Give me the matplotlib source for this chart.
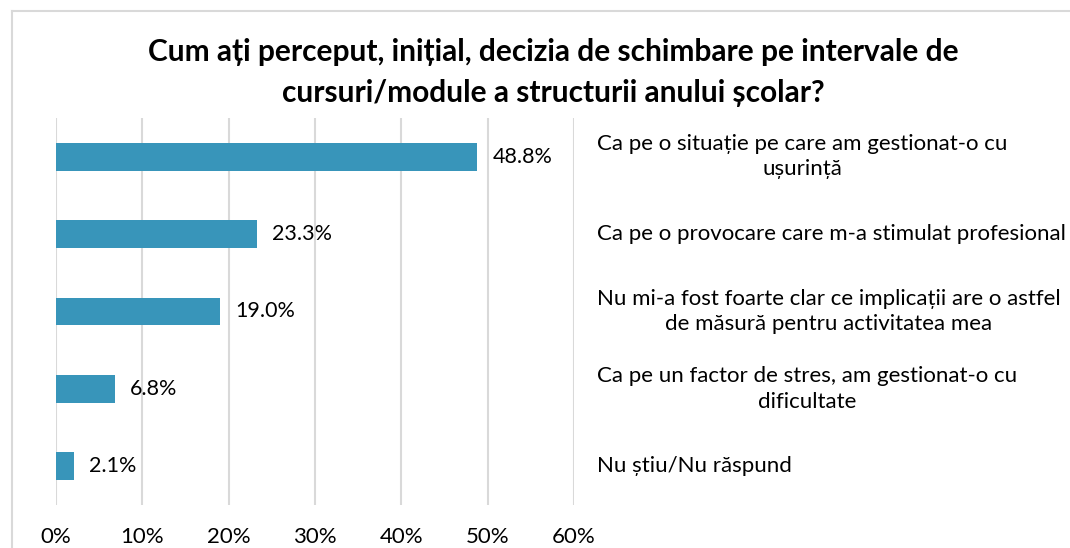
import matplotlib
matplotlib.use("Agg")
from matplotlib import pyplot as plt
from matplotlib.lines import Line2D
import matplotlib.transforms as mtransforms

categories = [
    "Ca pe o situație pe care am gestionat-o cu\nușurință",
    "Ca pe o provocare care m-a stimulat profesional",
    "Nu mi-a fost foarte clar ce implicații are o astfel\nde măsură pentru activitatea mea",
    "Ca pe un factor de stres, am gestionat-o cu\ndificultate",
    "Nu știu/Nu răspund",
]
values = [48.8, 23.3, 19.0, 6.8, 2.1]
ticks = [0, 10, 20, 30, 40, 50, 60]
tick_labels = ["0%", "10%", "20%", "30%", "40%", "50%", "60%"]

plt.rcParams["font.family"] = ["Lato", "DejaVu Sans"]

fig = plt.figure(figsize=(10.7, 5.48), dpi=100)
ax = fig.add_axes([0.0523, 0.0785, 0.4841, 0.7062])

ypos = list(range(len(values)))
ax.barh(ypos, values, height=0.36, color="#3895BA", zorder=3)
ax.set_ylim(len(values) - 0.5, -0.5)
ax.set_xlim(0, 60)

for y, v in zip(ypos, values):
    ax.annotate(f"{v:.1f}%", (v, y), xytext=(11, 0), textcoords="offset points",
                va="center", ha="left", fontsize=15.5, color="#000000")

ax.set_xticks(ticks)
ax.set_xticklabels(tick_labels, fontsize=16)
ax.tick_params(axis="x", length=0, pad=16)
ax.set_yticks([])
ax.grid(axis="x", color="#D9D9D9", linewidth=1.5, zorder=0)
for s in ax.spines.values():
    s.set_visible(False)

# category labels on the right side: left-aligned blocks, lines centred within
trans = mtransforms.blended_transform_factory(fig.transFigure, ax.transData)
for y, c in zip(ypos, categories):
    ax.text(597 / 1070, y, c, transform=trans, ha="left", va="center",
            multialignment="center", fontsize=16, linespacing=1.35, clip_on=False)

fig.text(0.517, 0.8677,
         "Cum ați perceput, inițial, decizia de schimbare pe intervale de\ncursuri/module a structurii anului școlar?",
         ha="center", va="center", fontsize=21.5, fontweight="bold", linespacing=1.54)

# chart frame (top and left edges visible)
fig.add_artist(Line2D([12 / 1070, 1.0], [1 - 11 / 548, 1 - 11 / 548],
                      transform=fig.transFigure, color="#D9D9D9", linewidth=1.5))
fig.add_artist(Line2D([12 / 1070, 12 / 1070], [0.0, 1 - 11 / 548],
                      transform=fig.transFigure, color="#D9D9D9", linewidth=1.5))

fig.savefig("out.png", dpi=100)
